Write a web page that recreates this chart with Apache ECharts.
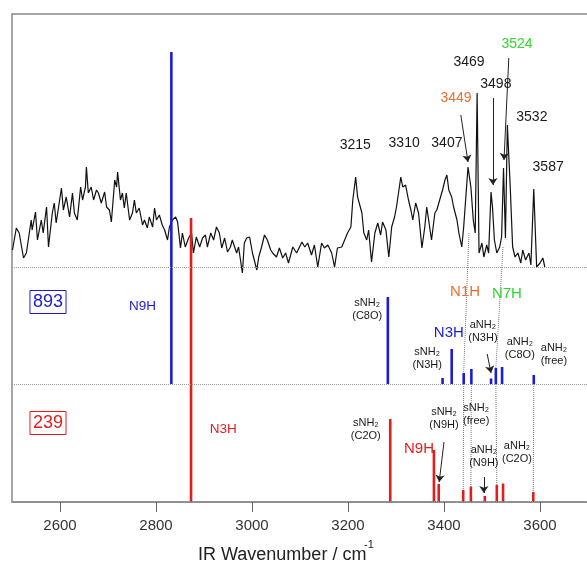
<!DOCTYPE html>
<html>
<head>
<meta charset="utf-8">
<script src="https://cdn.jsdelivr.net/npm/echarts@6/dist/echarts.min.js"></script>
<style>
  html, body { margin: 0; padding: 0; background: #fff; }
  #chart { width: 587px; height: 566px; }
</style>
</head>
<body>
<div id="chart"></div>
<script>
// x axis ticks (cm-1)
const xTicks = [2600, 2800, 3000, 3200, 3400, 3600]

// experimental IR spectrum (wavenumber, intensity above its baseline)
const specWn = [
  2501, 2509, 2515, 2524, 2530, 2540, 2542, 2549, 2553, 2561, 2565, 2572, 2576, 2584, 2588, 2592,
  2603, 2607, 2613, 2620, 2626, 2630, 2636, 2643, 2647, 2653, 2655, 2659, 2665, 2670, 2676, 2680,
  2686, 2693, 2697, 2703, 2707, 2714, 2718, 2720, 2726, 2730, 2734, 2738, 2745, 2751, 2755, 2759,
  2765, 2772, 2776, 2782, 2786, 2793, 2797, 2801, 2807, 2813, 2818, 2824, 2828, 2834, 2841, 2845,
  2851, 2855, 2861, 2868, 2874, 2878, 2884, 2891, 2897, 2903, 2907, 2914, 2920, 2926, 2932, 2937,
  2943, 2949, 2955, 2959, 2968, 2972, 2980, 2984, 2989, 2995, 3001, 3010, 3014, 3020, 3026, 3032,
  3039, 3043, 3051, 3057, 3064, 3070, 3076, 3085, 3093, 3104, 3110, 3116, 3124, 3130, 3137, 3145,
  3151, 3158, 3166, 3172, 3178, 3187, 3193, 3199, 3206, 3210, 3216, 3220, 3224, 3229, 3233, 3239,
  3243, 3249, 3256, 3262, 3268, 3272, 3279, 3285, 3291, 3297, 3301, 3310, 3314, 3320, 3326, 3331,
  3335, 3341, 3347, 3354, 3360, 3364, 3368, 3374, 3381, 3385, 3391, 3397, 3402, 3406, 3410, 3416,
  3420, 3427, 3431, 3437, 3441, 3447, 3450, 3456, 3461, 3465, 3469, 3473, 3479, 3483, 3489, 3493,
  3498, 3501, 3505, 3510, 3516, 3520, 3524, 3528, 3532, 3538, 3543, 3548, 3554, 3560, 3564, 3570,
  3577, 3581, 3587, 3593, 3600, 3606, 3610
]
const specInt = [
  17, 39, 34, 9, 14, 47, 37, 55, 27, 47, 34, 60, 20, 54, 64, 44,
  79, 57, 70, 50, 74, 54, 47, 80, 67, 80, 100, 74, 80, 67, 77, 74,
  64, 75, 60, 57, 45, 87, 80, 95, 67, 74, 59, 74, 47, 54, 67, 54,
  59, 42, 47, 39, 50, 40, 59, 47, 52, 42, 37, 27, 40, 47, 50, 45,
  19, 34, 20, 29, 34, 14, 30, 20, 29, 32, 20, 34, 27, 40, 34, 19,
  29, 15, 20, 27, 14, 20, -6, 24, 29, 30, 14, -3, 10, 20, 32, 27,
  17, 14, 10, 19, 9, 14, 4, 20, 14, 25, 20, 24, 12, 22, 0, 24,
  19, 22, 14, 0, 19, 20, 27, 34, 40, 67, 90, 70, 69, 54, 34, 27,
  37, 5, 34, 44, 32, 45, 37, 10, 40, 50, 60, 90, 80, 82, 67, 57,
  47, 64, 54, 19, 40, 60, 47, 27, 54, 57, 67, 77, 87, 92, 77, 70,
  60, 47, 34, 20, 40, 80, 100, 80, 47, 34, 174, 14, 24, 10, 22, 14,
  75, 60, 27, 14, 20, 30, 99, 29, 142, 80, 20, 10, 14, 4, 17, 7,
  14, 2, 78, 0, 4, 9, 0
]

// calculated stick spectra
const wn893 = [2832, 3283, 3397, 3416, 3441, 3457, 3498, 3508, 3521, 3587]
const int893 = [332, 87, 6, 35, 11, 15, 5.5, 16, 17, 9]
const wn239 = [2873, 3288, 3379, 3389, 3440, 3456, 3485, 3510, 3523, 3586]
const int239 = [284, 83, 52, 18, 12, 15.5, 6, 17, 18.5, 10]

// which 893 stick is linked (dotted) to which 239 stick
const linkPairs = [[4, 4], [5, 5], [7, 7], [9, 9]]

// panel baselines on the shared y scale
const base239 = 0
const base893 = 118
const baseExp = 235

const BLUE = '#1c1cd4'
const RED = '#e31c1c'
const ORANGE = '#ec6f2d'
const GREEN = '#2ed82e'
const TXT = '#1a1a1a'
const FONT = 'Liberation Sans, Arial, sans-serif'

// text annotations: [text, wn, y, color, size]
const notes = [
  ['3215', 3215, 357, TXT, 14],
  ['3310', 3317, 359, TXT, 14],
  ['3407', 3406, 359, TXT, 14],
  ['3449', 3425, 404, ORANGE, 14],
  ['3469', 3452, 440, TXT, 14],
  ['3498', 3508, 418, TXT, 14],
  ['3524', 3552, 458, GREEN, 14],
  ['3532', 3583, 385, TXT, 14],
  ['3587', 3617, 335, TXT, 14],
  ['N9H', 2772, 195.5, BLUE, 13.5],
  ['sNH₂\n(C8O)', 3240, 193, TXT, 11],
  ['N3H', 3410, 169, BLUE, 15],
  ['sNH₂\n(N3H)', 3365, 144, TXT, 11],
  ['N1H', 3444, 210, ORANGE, 15],
  ['N7H', 3531, 208, GREEN, 15],
  ['aNH₂\n(N3H)', 3481, 170.5, TXT, 11],
  ['aNH₂\n(C8O)', 3558, 153.5, TXT, 11],
  ['aNH₂\n(free)', 3629, 147.5, TXT, 11],
  ['N3H', 2940, 73, RED, 13.5],
  ['sNH₂\n(C2O)', 3237, 72.5, TXT, 11],
  ['N9H', 3348, 53, RED, 15],
  ['sNH₂\n(N9H)', 3400, 83.5, TXT, 11],
  ['sNH₂\n(free)', 3467, 88, TXT, 11],
  ['aNH₂\n(N9H)', 3483, 45.5, TXT, 11],
  ['aNH₂\n(C2O)', 3552, 50, TXT, 11]
]

// boxed conformer energies
const boxes = [['893', 2575, 200, BLUE], ['239', 2575, 79, RED]]

// arrows: [fromWn, fromY, toWn, toY]
const arrows = [
  [3435, 387, 3450, 340],
  [3502, 404, 3502, 317],
  [3535, 444, 3525, 342],
  [3490, 148, 3498, 129],
  [3400, 60, 3390, 20],
  [3483, 25, 3483, 9]
]

const chart = echarts.init(document.getElementById('chart'))

const stickSeries = (wn, inten, base, color) => ({
  type: 'custom',
  z: 4,
  renderItem: (params, api) => {
    const p0 = api.coord([api.value(0), base])
    const p1 = api.coord([api.value(0), base + api.value(1)])
    return {
      type: 'rect',
      shape: { x: p0[0] - 1.3, y: p1[1], width: 2.6, height: p0[1] - p1[1] },
      style: { fill: color }
    }
  },
  data: wn.map((w, i) => [w, inten[i]])
})

const dotted = { type: 'dotted', color: '#777', width: 1 }

// dotted links between spectra
const links = [
  [{ coord: [3452, baseExp + 34] }, { coord: [wn893[4], base893 + int893[4]] }],
  [{ coord: [3523, baseExp + 20] }, { coord: [wn893[7], base893 + int893[7]] }]
]
linkPairs.forEach(([b, r]) => {
  links.push([{ coord: [wn893[b], base893] }, { coord: [wn239[r], base239 + int239[r]] }])
})

const option = {
  animation: false,
  grid: {
    left: 12, right: -1, top: 14, bottom: 64,
    show: true, borderColor: '#888', borderWidth: 1.5,
    outerBoundsMode: 'none'
  },
  xAxis: {
    type: 'value',
    min: 2500,
    max: 3700,
    splitLine: { show: false },
    axisLine: { lineStyle: { color: '#888', width: 1.5 } },
    axisTick: { customValues: xTicks, length: 10, lineStyle: { color: '#666' } },
    axisLabel: {
      customValues: xTicks,
      formatter: v => String(v),
      fontSize: 15,
      color: '#333',
      fontFamily: FONT,
      margin: 16
    }
  },
  yAxis: { type: 'value', min: 0, max: 488, show: false },
  series: [
    {
      type: 'line',
      data: specWn.map((w, i) => [w, baseExp + specInt[i]]),
      showSymbol: false,
      lineStyle: { color: '#111', width: 1.2 },
      z: 2,
      markLine: {
        silent: true,
        symbol: 'none',
        label: { show: false },
        lineStyle: { type: 'dotted', color: '#999', width: 1 },
        data: [{ yAxis: baseExp }, { yAxis: base893 }, { yAxis: base239 + 0.5 }]
      }
    },
    stickSeries(wn893, int893, base893, BLUE),
    stickSeries(wn239, int239, base239, RED),
    {
      type: 'line',
      data: [],
      markLine: {
        silent: true,
        symbol: 'none',
        label: { show: false },
        lineStyle: dotted,
        data: links
      }
    },
    {
      type: 'line',
      data: [],
      markLine: {
        silent: true,
        symbol: ['none', 'arrow'],
        symbolSize: [7, 7],
        label: { show: false },
        lineStyle: { type: 'solid', color: '#222', width: 1 },
        data: arrows.map(a => [{ coord: [a[0], a[1]] }, { coord: [a[2], a[3]] }])
      }
    },
    {
      type: 'scatter',
      symbolSize: 0,
      z: 6,
      itemStyle: { opacity: 1 },
      data: notes.map(n => ({
        value: [n[1], n[2]],
        label: {
          show: true,
          position: 'inside',
          formatter: n[0],
          color: n[3],
          fontSize: n[4],
          fontFamily: FONT,
          lineHeight: Math.round(n[4] * 1.2)
        }
      }))
    },
    {
      type: 'scatter',
      symbolSize: 0,
      z: 6,
      itemStyle: { opacity: 1 },
      data: boxes.map(b => ({
        value: [b[1], b[2]],
        label: {
          show: true,
          position: 'inside',
          formatter: b[0],
          color: b[3],
          fontSize: 18,
          fontFamily: FONT,
          borderColor: b[3],
          borderWidth: 1,
          padding: [3, 3, 2, 3]
        }
      }))
    }
  ],
  graphic: [
    {
      type: 'text',
      left: 198,
      top: 546,
      style: { text: 'IR Wavenumber / cm', font: '18px ' + FONT, fill: '#222' }
    },
    {
      type: 'text',
      left: 364,
      top: 539,
      style: { text: '-1', font: '11px ' + FONT, fill: '#222' }
    }
  ]
}

chart.setOption(option)
</script>
</body>
</html>
